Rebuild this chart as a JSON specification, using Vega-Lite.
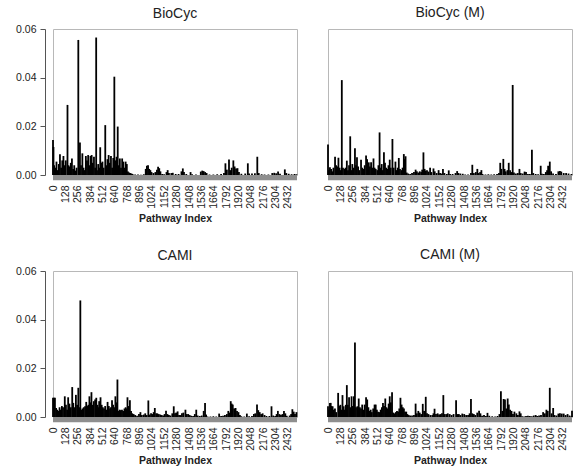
{
  "$schema": "https://vega.github.io/schema/vega-lite/v6.json",
  "padding": {"left": 15, "top": 5, "right": 2, "bottom": 2},
  "background": "white",
  "config": {
    "font": "Liberation Sans",
    "view": {"stroke": "#b8b8b8", "strokeWidth": 1},
    "title": {"fontSize": 14, "fontWeight": "normal", "color": "#222222", "offset": 3, "font": "Liberation Sans"},
    "axis": {"labelFont": "Liberation Sans", "labelFontSize": 10.5, "labelColor": "#222222", "titleFont": "Liberation Sans", "titleFontSize": 10.5, "titleFontWeight": "bold", "titleColor": "#222222", "grid": false},
    "axisY": {"format": ".2f", "offset": 8, "tickSize": 5, "labelPadding": 4, "domainColor": "#555555", "tickColor": "#555555"}
  },
  "datasets": {
    "biocyc": [
      {"i":0,"v":0.0144},{"i":5,"v":0.0115},{"i":12,"v":0.004},{"i":24,"v":0.003},{"i":36,"v":0.0055},{"i":48,"v":0.002},{"i":60,"v":0.0045},{"i":72,"v":0.0085},{"i":84,"v":0.003},{"i":96,"v":0.006},{"i":108,"v":0.0078},{"i":120,"v":0.004},{"i":132,"v":0.006},{"i":150,"v":0.0288},{"i":160,"v":0.004},{"i":172,"v":0.0035},{"i":184,"v":0.005},{"i":196,"v":0.0068},{"i":208,"v":0.0025},{"i":220,"v":0.004},{"i":232,"v":0.0018},{"i":244,"v":0.003},{"i":262,"v":0.0555},{"i":270,"v":0.003},{"i":279,"v":0.0134},{"i":290,"v":0.004},{"i":304,"v":0.0089},{"i":316,"v":0.003},{"i":328,"v":0.002},{"i":340,"v":0.0078},{"i":352,"v":0.006},{"i":364,"v":0.0082},{"i":376,"v":0.004},{"i":388,"v":0.0078},{"i":400,"v":0.0082},{"i":412,"v":0.005},{"i":424,"v":0.0075},{"i":436,"v":0.003},{"i":447,"v":0.0565},{"i":456,"v":0.002},{"i":468,"v":0.0045},{"i":480,"v":0.003},{"i":489,"v":0.0114},{"i":500,"v":0.005},{"i":512,"v":0.0055},{"i":524,"v":0.003},{"i":541,"v":0.0205},{"i":552,"v":0.004},{"i":564,"v":0.0065},{"i":576,"v":0.0082},{"i":588,"v":0.005},{"i":600,"v":0.0078},{"i":612,"v":0.003},{"i":624,"v":0.007},{"i":635,"v":0.0404},{"i":646,"v":0.006},{"i":658,"v":0.0075},{"i":670,"v":0.0199},{"i":680,"v":0.004},{"i":692,"v":0.0068},{"i":704,"v":0.003},{"i":716,"v":0.0068},{"i":728,"v":0.0055},{"i":740,"v":0.003},{"i":752,"v":0.0055},{"i":764,"v":0.0045},{"i":776,"v":0.0014},{"i":788,"v":0.001},{"i":800,"v":0.0008},{"i":812,"v":0.0006},{"i":824,"v":0.0004},
      {"i":850,"v":0.0002},{"i":880,"v":0.0002},{"i":910,"v":0.0001},{"i":940,"v":0.0003},{"i":960,"v":0.0025},{"i":972,"v":0.0038},{"i":984,"v":0.004},{"i":996,"v":0.0025},{"i":1008,"v":0.002},{"i":1020,"v":0.0012},{"i":1040,"v":0.0008},{"i":1060,"v":0.0012},{"i":1076,"v":0.0022},{"i":1088,"v":0.0034},{"i":1100,"v":0.0028},{"i":1112,"v":0.0015},{"i":1130,"v":0.0004},{"i":1150,"v":0.0003},{"i":1175,"v":0.0012},{"i":1187,"v":0.002},{"i":1200,"v":0.0008},{"i":1225,"v":0.0008},{"i":1240,"v":0.0009},{"i":1270,"v":0.0004},{"i":1300,"v":0.0004},{"i":1330,"v":0.0015},{"i":1344,"v":0.0027},{"i":1356,"v":0.0012},{"i":1380,"v":0.0004},{"i":1424,"v":0.0012},{"i":1440,"v":0.0003},{"i":1480,"v":0.0002},{"i":1530,"v":0.0014},{"i":1545,"v":0.0018},{"i":1560,"v":0.0016},{"i":1575,"v":0.0012},{"i":1590,"v":0.0008},{"i":1620,"v":0.0002},{"i":1660,"v":0.0002},{"i":1700,"v":0.0003},{"i":1740,"v":0.0004},{"i":1770,"v":0.0008},{"i":1785,"v":0.0048},{"i":1800,"v":0.0022},{"i":1822,"v":0.0064},{"i":1835,"v":0.002},{"i":1850,"v":0.003},{"i":1867,"v":0.006},{"i":1880,"v":0.0035},{"i":1895,"v":0.0027},{"i":1910,"v":0.0028},{"i":1925,"v":0.0012},{"i":1950,"v":0.0005},{"i":1990,"v":0.0006},{"i":2017,"v":0.0048},{"i":2030,"v":0.0006},{"i":2060,"v":0.0006},{"i":2090,"v":0.0007},{"i":2115,"v":0.0075},{"i":2130,"v":0.0008},{"i":2160,"v":0.0003},{"i":2190,"v":0.0002},{"i":2230,"v":0.0002},{"i":2270,"v":0.0008},{"i":2290,"v":0.0009},{"i":2310,"v":0.0007},{"i":2330,"v":0.0014},{"i":2350,"v":0.0005},{"i":2400,"v":0.0023},{"i":2415,"v":0.0008},{"i":2440,"v":0.0005},{"i":2470,"v":0.0003},{"i":2500,"v":0.0004},{"i":2520,"v":0.0003}
    ],
    "biocycm": [
      {"i":0,"v":0.0125},{"i":8,"v":0.002},{"i":20,"v":0.0032},{"i":32,"v":0.0025},{"i":44,"v":0.0015},{"i":56,"v":0.003},{"i":73,"v":0.0075},{"i":84,"v":0.004},{"i":96,"v":0.0035},{"i":108,"v":0.0071},{"i":120,"v":0.003},{"i":132,"v":0.002},{"i":143,"v":0.039},{"i":155,"v":0.003},{"i":170,"v":0.0025},{"i":182,"v":0.003},{"i":195,"v":0.0059},{"i":207,"v":0.002},{"i":218,"v":0.004},{"i":230,"v":0.0159},{"i":240,"v":0.002},{"i":252,"v":0.0045},{"i":265,"v":0.003},{"i":279,"v":0.011},{"i":290,"v":0.004},{"i":300,"v":0.0073},{"i":312,"v":0.0035},{"i":324,"v":0.002},{"i":342,"v":0.0063},{"i":354,"v":0.003},{"i":366,"v":0.0025},{"i":380,"v":0.004},{"i":394,"v":0.008},{"i":405,"v":0.0065},{"i":422,"v":0.0052},{"i":434,"v":0.0035},{"i":446,"v":0.0052},{"i":458,"v":0.003},{"i":471,"v":0.0068},{"i":482,"v":0.003},{"i":494,"v":0.0025},{"i":510,"v":0.002},{"i":522,"v":0.004},{"i":534,"v":0.0175},{"i":545,"v":0.003},{"i":556,"v":0.0045},{"i":567,"v":0.002},{"i":579,"v":0.0093},{"i":590,"v":0.005},{"i":602,"v":0.003},{"i":614,"v":0.0025},{"i":626,"v":0.004},{"i":639,"v":0.0063},{"i":650,"v":0.003},{"i":667,"v":0.0148},{"i":680,"v":0.003},{"i":698,"v":0.0055},{"i":710,"v":0.002},{"i":722,"v":0.003},{"i":733,"v":0.007},{"i":745,"v":0.0025},{"i":760,"v":0.002},{"i":772,"v":0.003},{"i":785,"v":0.0086},{"i":795,"v":0.0065},{"i":803,"v":0.0077},{"i":815,"v":0.001},{"i":830,"v":0.0006},{"i":850,"v":0.0004},{"i":870,"v":0.0008},{"i":890,"v":0.0012},{"i":907,"v":0.0022},{"i":920,"v":0.0015},{"i":935,"v":0.001},{"i":950,"v":0.0015},{"i":965,"v":0.0012},{"i":975,"v":0.0022},{"i":988,"v":0.0093},{"i":1000,"v":0.0025},{"i":1012,"v":0.0018},{"i":1025,"v":0.002},{"i":1040,"v":0.0014},{"i":1057,"v":0.003},{"i":1070,"v":0.0012},{"i":1092,"v":0.0027},{"i":1105,"v":0.0015},{"i":1125,"v":0.0008},{"i":1145,"v":0.002},{"i":1160,"v":0.0008},{"i":1175,"v":0.0006},{"i":1190,"v":0.0025},{"i":1205,"v":0.0008},{"i":1230,"v":0.0004},{"i":1250,"v":0.0019},{"i":1265,"v":0.0004},{"i":1290,"v":0.0004},{"i":1320,"v":0.0008},{"i":1337,"v":0.0016},{"i":1350,"v":0.0008},{"i":1370,"v":0.0006},{"i":1395,"v":0.0005},{"i":1420,"v":0.0002},{"i":1450,"v":0.0002},{"i":1480,"v":0.0008},{"i":1494,"v":0.0042},{"i":1510,"v":0.0008},{"i":1530,"v":0.0012},{"i":1546,"v":0.0025},{"i":1560,"v":0.0008},{"i":1575,"v":0.0012},{"i":1588,"v":0.002},{"i":1600,"v":0.0004},{"i":1630,"v":0.0002},{"i":1660,"v":0.0003},{"i":1690,"v":0.0002},{"i":1720,"v":0.0003},{"i":1750,"v":0.0004},{"i":1770,"v":0.0008},{"i":1783,"v":0.005},{"i":1795,"v":0.0025},{"i":1815,"v":0.0066},{"i":1828,"v":0.0025},{"i":1840,"v":0.0015},{"i":1858,"v":0.002},{"i":1871,"v":0.005},{"i":1885,"v":0.002},{"i":1900,"v":0.0012},{"i":1912,"v":0.037},{"i":1925,"v":0.001},{"i":1945,"v":0.0006},{"i":1965,"v":0.0008},{"i":1982,"v":0.0025},{"i":1995,"v":0.0008},{"i":2015,"v":0.0006},{"i":2035,"v":0.0014},{"i":2050,"v":0.0012},{"i":2070,"v":0.0004},{"i":2090,"v":0.0004},{"i":2111,"v":0.0104},{"i":2125,"v":0.0008},{"i":2150,"v":0.0004},{"i":2175,"v":0.0003},{"i":2202,"v":0.0038},{"i":2215,"v":0.0005},{"i":2235,"v":0.0004},{"i":2255,"v":0.0012},{"i":2268,"v":0.002},{"i":2279,"v":0.0038},{"i":2296,"v":0.0055},{"i":2310,"v":0.0015},{"i":2330,"v":0.0006},{"i":2360,"v":0.0004},{"i":2385,"v":0.0015},{"i":2401,"v":0.0016},{"i":2415,"v":0.0014},{"i":2440,"v":0.0008},{"i":2465,"v":0.0008},{"i":2490,"v":0.0006},{"i":2520,"v":0.0004}
    ],
    "cami": [
      {"i":0,"v":0.0079},{"i":10,"v":0.0079},{"i":20,"v":0.0079},{"i":32,"v":0.0037},{"i":44,"v":0.003},{"i":56,"v":0.0025},{"i":68,"v":0.004},{"i":80,"v":0.003},{"i":92,"v":0.0045},{"i":104,"v":0.004},{"i":122,"v":0.0085},{"i":134,"v":0.005},{"i":146,"v":0.003},{"i":157,"v":0.0081},{"i":170,"v":0.0055},{"i":185,"v":0.004},{"i":199,"v":0.0123},{"i":210,"v":0.0058},{"i":222,"v":0.004},{"i":237,"v":0.0091},{"i":250,"v":0.005},{"i":262,"v":0.012},{"i":272,"v":0.004},{"i":283,"v":0.0479},{"i":294,"v":0.003},{"i":306,"v":0.0035},{"i":318,"v":0.004},{"i":332,"v":0.0044},{"i":344,"v":0.0062},{"i":356,"v":0.0045},{"i":366,"v":0.005},{"i":377,"v":0.0085},{"i":388,"v":0.006},{"i":398,"v":0.0102},{"i":410,"v":0.005},{"i":422,"v":0.0065},{"i":436,"v":0.0072},{"i":448,"v":0.0079},{"i":460,"v":0.005},{"i":470,"v":0.004},{"i":478,"v":0.0065},{"i":492,"v":0.0081},{"i":504,"v":0.005},{"i":516,"v":0.004},{"i":528,"v":0.0035},{"i":540,"v":0.0045},{"i":552,"v":0.003},{"i":565,"v":0.0062},{"i":578,"v":0.0045},{"i":590,"v":0.0035},{"i":600,"v":0.004},{"i":611,"v":0.0069},{"i":622,"v":0.005},{"i":634,"v":0.004},{"i":646,"v":0.0085},{"i":657,"v":0.006},{"i":667,"v":0.0154},{"i":678,"v":0.0025},{"i":690,"v":0.003},{"i":702,"v":0.0028},{"i":714,"v":0.003},{"i":726,"v":0.0025},{"i":740,"v":0.0035},{"i":752,"v":0.004},{"i":762,"v":0.0035},{"i":771,"v":0.0081},{"i":784,"v":0.0045},{"i":796,"v":0.0069},{"i":808,"v":0.0025},{"i":820,"v":0.0015},{"i":835,"v":0.0012},{"i":850,"v":0.0008},{"i":870,"v":0.0005},{"i":890,"v":0.0012},{"i":905,"v":0.002},{"i":920,"v":0.0008},{"i":940,"v":0.001},{"i":955,"v":0.0015},{"i":970,"v":0.0008},{"i":987,"v":0.0068},{"i":1000,"v":0.001},{"i":1015,"v":0.0015},{"i":1030,"v":0.0012},{"i":1042,"v":0.002},{"i":1054,"v":0.0037},{"i":1068,"v":0.0015},{"i":1080,"v":0.0015},{"i":1095,"v":0.0012},{"i":1110,"v":0.001},{"i":1125,"v":0.0008},{"i":1140,"v":0.0006},{"i":1155,"v":0.0012},{"i":1170,"v":0.0026},{"i":1185,"v":0.0012},{"i":1200,"v":0.0008},{"i":1215,"v":0.0006},{"i":1235,"v":0.0015},{"i":1250,"v":0.0044},{"i":1263,"v":0.0015},{"i":1275,"v":0.0018},{"i":1290,"v":0.0023},{"i":1305,"v":0.0008},{"i":1320,"v":0.0008},{"i":1335,"v":0.0015},{"i":1350,"v":0.0018},{"i":1371,"v":0.003},{"i":1385,"v":0.0012},{"i":1400,"v":0.0012},{"i":1415,"v":0.0008},{"i":1430,"v":0.0005},{"i":1450,"v":0.0004},{"i":1468,"v":0.0012},{"i":1483,"v":0.003},{"i":1498,"v":0.0006},{"i":1520,"v":0.0004},{"i":1540,"v":0.0006},{"i":1560,"v":0.0025},{"i":1574,"v":0.0058},{"i":1585,"v":0.001},{"i":1600,"v":0.0002},{"i":1630,"v":0.0002},{"i":1660,"v":0.0003},{"i":1690,"v":0.0002},{"i":1720,"v":0.0014},{"i":1740,"v":0.0004},{"i":1760,"v":0.0005},{"i":1780,"v":0.0008},{"i":1800,"v":0.0012},{"i":1815,"v":0.0025},{"i":1828,"v":0.0018},{"i":1840,"v":0.0065},{"i":1850,"v":0.0055},{"i":1861,"v":0.0051},{"i":1875,"v":0.0035},{"i":1890,"v":0.0037},{"i":1905,"v":0.0025},{"i":1920,"v":0.002},{"i":1935,"v":0.0008},{"i":1950,"v":0.0003},{"i":1980,"v":0.0002},{"i":2007,"v":0.0014},{"i":2030,"v":0.0003},{"i":2060,"v":0.0004},{"i":2080,"v":0.0012},{"i":2095,"v":0.0015},{"i":2112,"v":0.0051},{"i":2125,"v":0.0028},{"i":2140,"v":0.002},{"i":2155,"v":0.0012},{"i":2170,"v":0.0015},{"i":2190,"v":0.0008},{"i":2210,"v":0.0004},{"i":2240,"v":0.0004},{"i":2262,"v":0.0044},{"i":2280,"v":0.0006},{"i":2300,"v":0.0004},{"i":2315,"v":0.0012},{"i":2328,"v":0.0025},{"i":2345,"v":0.0012},{"i":2360,"v":0.0008},{"i":2375,"v":0.0012},{"i":2391,"v":0.0025},{"i":2405,"v":0.0015},{"i":2420,"v":0.0005},{"i":2450,"v":0.0006},{"i":2465,"v":0.0012},{"i":2478,"v":0.0032},{"i":2492,"v":0.0022},{"i":2505,"v":0.0012},{"i":2520,"v":0.002}
    ],
    "camim": [
      {"i":0,"v":0.0044},{"i":10,"v":0.003},{"i":20,"v":0.0058},{"i":28,"v":0.0058},{"i":36,"v":0.0045},{"i":48,"v":0.0044},{"i":60,"v":0.003},{"i":72,"v":0.0035},{"i":84,"v":0.002},{"i":105,"v":0.0099},{"i":116,"v":0.0045},{"i":128,"v":0.005},{"i":140,"v":0.003},{"i":150,"v":0.009},{"i":162,"v":0.0044},{"i":174,"v":0.003},{"i":184,"v":0.005},{"i":195,"v":0.0131},{"i":206,"v":0.005},{"i":218,"v":0.0081},{"i":230,"v":0.004},{"i":244,"v":0.0085},{"i":256,"v":0.0045},{"i":268,"v":0.0085},{"i":279,"v":0.0306},{"i":290,"v":0.004},{"i":304,"v":0.0044},{"i":318,"v":0.0076},{"i":330,"v":0.004},{"i":342,"v":0.0035},{"i":354,"v":0.0051},{"i":366,"v":0.003},{"i":380,"v":0.0051},{"i":394,"v":0.0081},{"i":406,"v":0.0072},{"i":418,"v":0.004},{"i":430,"v":0.0025},{"i":442,"v":0.003},{"i":454,"v":0.002},{"i":468,"v":0.0035},{"i":482,"v":0.0051},{"i":494,"v":0.0051},{"i":506,"v":0.003},{"i":518,"v":0.0022},{"i":530,"v":0.002},{"i":545,"v":0.003},{"i":558,"v":0.004},{"i":569,"v":0.0058},{"i":580,"v":0.0045},{"i":593,"v":0.0076},{"i":605,"v":0.004},{"i":617,"v":0.0035},{"i":628,"v":0.0055},{"i":639,"v":0.0085},{"i":651,"v":0.006},{"i":663,"v":0.0102},{"i":675,"v":0.0018},{"i":690,"v":0.0015},{"i":702,"v":0.002},{"i":714,"v":0.0025},{"i":726,"v":0.0022},{"i":738,"v":0.0035},{"i":750,"v":0.0079},{"i":762,"v":0.0051},{"i":774,"v":0.004},{"i":786,"v":0.0035},{"i":798,"v":0.0022},{"i":810,"v":0.0022},{"i":822,"v":0.0012},{"i":835,"v":0.0008},{"i":850,"v":0.0006},{"i":870,"v":0.0006},{"i":890,"v":0.0008},{"i":907,"v":0.0055},{"i":920,"v":0.0015},{"i":935,"v":0.0025},{"i":950,"v":0.0018},{"i":965,"v":0.0012},{"i":981,"v":0.0054},{"i":995,"v":0.0025},{"i":1012,"v":0.0083},{"i":1025,"v":0.0015},{"i":1040,"v":0.0012},{"i":1060,"v":0.0008},{"i":1080,"v":0.0008},{"i":1092,"v":0.0015},{"i":1103,"v":0.0034},{"i":1118,"v":0.0012},{"i":1135,"v":0.0015},{"i":1150,"v":0.001},{"i":1165,"v":0.0012},{"i":1180,"v":0.0015},{"i":1194,"v":0.009},{"i":1208,"v":0.0012},{"i":1225,"v":0.0012},{"i":1240,"v":0.0015},{"i":1260,"v":0.0012},{"i":1280,"v":0.0008},{"i":1300,"v":0.0012},{"i":1326,"v":0.0069},{"i":1340,"v":0.0012},{"i":1355,"v":0.0012},{"i":1370,"v":0.0008},{"i":1390,"v":0.0014},{"i":1410,"v":0.0012},{"i":1430,"v":0.0008},{"i":1450,"v":0.0008},{"i":1466,"v":0.0015},{"i":1480,"v":0.0074},{"i":1494,"v":0.0015},{"i":1510,"v":0.0012},{"i":1525,"v":0.0008},{"i":1545,"v":0.0018},{"i":1564,"v":0.0026},{"i":1578,"v":0.0015},{"i":1595,"v":0.0005},{"i":1615,"v":0.0008},{"i":1635,"v":0.0004},{"i":1651,"v":0.0017},{"i":1670,"v":0.0005},{"i":1700,"v":0.0003},{"i":1730,"v":0.0002},{"i":1755,"v":0.0004},{"i":1775,"v":0.0012},{"i":1790,"v":0.0106},{"i":1805,"v":0.0025},{"i":1818,"v":0.0074},{"i":1832,"v":0.0072},{"i":1846,"v":0.0035},{"i":1860,"v":0.0076},{"i":1872,"v":0.0051},{"i":1885,"v":0.003},{"i":1900,"v":0.0025},{"i":1915,"v":0.0012},{"i":1930,"v":0.0022},{"i":1950,"v":0.0015},{"i":1966,"v":0.0008},{"i":1982,"v":0.0023},{"i":1995,"v":0.0015},{"i":2010,"v":0.0003},{"i":2030,"v":0.0002},{"i":2050,"v":0.0004},{"i":2070,"v":0.0005},{"i":2090,"v":0.0004},{"i":2110,"v":0.0003},{"i":2130,"v":0.0006},{"i":2150,"v":0.0008},{"i":2165,"v":0.0004},{"i":2185,"v":0.0006},{"i":2205,"v":0.0008},{"i":2227,"v":0.002},{"i":2245,"v":0.0015},{"i":2261,"v":0.003},{"i":2275,"v":0.0025},{"i":2296,"v":0.012},{"i":2315,"v":0.0015},{"i":2331,"v":0.0037},{"i":2345,"v":0.0008},{"i":2365,"v":0.0006},{"i":2385,"v":0.0014},{"i":2401,"v":0.0015},{"i":2420,"v":0.0014},{"i":2440,"v":0.0014},{"i":2460,"v":0.0008},{"i":2480,"v":0.0012},{"i":2500,"v":0.0006},{"i":2520,"v":0.0004},{"i":2526,"v":0.0026}
    ],
    "band": [{"a": 0}]
  },
  "columns": 2,
  "spacing": {"column": 24, "row": 22},
  "concat": [
    {
      "title": {"text": "BioCyc", "offset": 3}, "width": 244, "height": 146,
      "layer": [
        {"data": {"name": "band"}, "mark": {"type": "rect", "color": "#8e8e8e"},
         "encoding": {"x": {"datum": 0, "type": "quantitative", "scale": {"domain": [0, 2526], "nice": false, "zero": false}, "axis": {"values": [0,128,256,384,512,640,768,896,1024,1152,1280,1408,1536,1664,1792,1920,2048,2176,2304,2432], "format": "d", "labelAngle": -90, "ticks": false, "tickSize": 0, "domain": false, "labelPadding": 10, "labelOverlap": false, "labelFlush": false, "titlePadding": 5, "title": "Pathway Index"}}, "x2": {"datum": 2526}, "y": {"datum": 0, "type": "quantitative", "scale": {"domain": [0, 0.06], "nice": false}, "axis": {"values": [0, 0.02, 0.04, 0.06], "title": null}}, "y2": {"datum": -0.0022}}},
        {"data": {"name": "biocyc"}, "mark": {"type": "rule", "color": "#000000", "strokeWidth": 1.8},
         "encoding": {
           "x": {"field": "i", "type": "quantitative", "axis": {"values": [0,128,256,384,512,640,768,896,1024,1152,1280,1408,1536,1664,1792,1920,2048,2176,2304,2432], "format": "d", "labelAngle": -90, "ticks": false, "tickSize": 0, "domain": false, "labelPadding": 10, "labelOverlap": false, "labelFlush": false, "titlePadding": 5, "title": "Pathway Index"}},
           "y": {"field": "v", "type": "quantitative", "axis": {"values": [0, 0.02, 0.04, 0.06], "title": null}},
           "y2": {"datum": 0}}}
      ]
    },
    {
      "title": {"text": "BioCyc (M)", "offset": 9}, "width": 244, "height": 146,
      "layer": [
        {"data": {"name": "band"}, "mark": {"type": "rect", "color": "#8e8e8e"},
         "encoding": {"x": {"datum": 0, "type": "quantitative", "scale": {"domain": [0, 2526], "nice": false, "zero": false}, "axis": {"values": [0,128,256,384,512,640,768,896,1024,1152,1280,1408,1536,1664,1792,1920,2048,2176,2304,2432], "format": "d", "labelAngle": -90, "ticks": false, "tickSize": 0, "domain": false, "labelPadding": 10, "labelOverlap": false, "labelFlush": false, "titlePadding": 5, "title": "Pathway Index"}}, "x2": {"datum": 2526}, "y": {"datum": 0, "type": "quantitative", "scale": {"domain": [0, 0.06], "nice": false}, "axis": null}, "y2": {"datum": -0.0022}}},
        {"data": {"name": "biocycm"}, "mark": {"type": "rule", "color": "#000000", "strokeWidth": 1.8},
         "encoding": {
           "x": {"field": "i", "type": "quantitative", "axis": {"values": [0,128,256,384,512,640,768,896,1024,1152,1280,1408,1536,1664,1792,1920,2048,2176,2304,2432], "format": "d", "labelAngle": -90, "ticks": false, "tickSize": 0, "domain": false, "labelPadding": 10, "labelOverlap": false, "labelFlush": false, "titlePadding": 5, "title": "Pathway Index"}},
           "y": {"field": "v", "type": "quantitative", "axis": null},
           "y2": {"datum": 0}}}
      ]
    },
    {
      "title": {"text": "CAMI", "offset": 3}, "width": 244, "height": 146,
      "layer": [
        {"data": {"name": "band"}, "mark": {"type": "rect", "color": "#8e8e8e"},
         "encoding": {"x": {"datum": 0, "type": "quantitative", "scale": {"domain": [0, 2526], "nice": false, "zero": false}, "axis": {"values": [0,128,256,384,512,640,768,896,1024,1152,1280,1408,1536,1664,1792,1920,2048,2176,2304,2432], "format": "d", "labelAngle": -90, "ticks": false, "tickSize": 0, "domain": false, "labelPadding": 10, "labelOverlap": false, "labelFlush": false, "titlePadding": 5, "title": "Pathway Index"}}, "x2": {"datum": 2526}, "y": {"datum": 0, "type": "quantitative", "scale": {"domain": [0, 0.06], "nice": false}, "axis": {"values": [0, 0.02, 0.04, 0.06], "title": null}}, "y2": {"datum": -0.0022}}},
        {"data": {"name": "cami"}, "mark": {"type": "rule", "color": "#000000", "strokeWidth": 1.8},
         "encoding": {
           "x": {"field": "i", "type": "quantitative", "axis": {"values": [0,128,256,384,512,640,768,896,1024,1152,1280,1408,1536,1664,1792,1920,2048,2176,2304,2432], "format": "d", "labelAngle": -90, "ticks": false, "tickSize": 0, "domain": false, "labelPadding": 10, "labelOverlap": false, "labelFlush": false, "titlePadding": 5, "title": "Pathway Index"}},
           "y": {"field": "v", "type": "quantitative", "axis": {"values": [0, 0.02, 0.04, 0.06], "title": null}},
           "y2": {"datum": 0}}}
      ]
    },
    {
      "title": {"text": "CAMI (M)", "offset": 9}, "width": 244, "height": 146,
      "layer": [
        {"data": {"name": "band"}, "mark": {"type": "rect", "color": "#8e8e8e"},
         "encoding": {"x": {"datum": 0, "type": "quantitative", "scale": {"domain": [0, 2526], "nice": false, "zero": false}, "axis": {"values": [0,128,256,384,512,640,768,896,1024,1152,1280,1408,1536,1664,1792,1920,2048,2176,2304,2432], "format": "d", "labelAngle": -90, "ticks": false, "tickSize": 0, "domain": false, "labelPadding": 10, "labelOverlap": false, "labelFlush": false, "titlePadding": 5, "title": "Pathway Index"}}, "x2": {"datum": 2526}, "y": {"datum": 0, "type": "quantitative", "scale": {"domain": [0, 0.06], "nice": false}, "axis": null}, "y2": {"datum": -0.0022}}},
        {"data": {"name": "camim"}, "mark": {"type": "rule", "color": "#000000", "strokeWidth": 1.8},
         "encoding": {
           "x": {"field": "i", "type": "quantitative", "axis": {"values": [0,128,256,384,512,640,768,896,1024,1152,1280,1408,1536,1664,1792,1920,2048,2176,2304,2432], "format": "d", "labelAngle": -90, "ticks": false, "tickSize": 0, "domain": false, "labelPadding": 10, "labelOverlap": false, "labelFlush": false, "titlePadding": 5, "title": "Pathway Index"}},
           "y": {"field": "v", "type": "quantitative", "axis": null},
           "y2": {"datum": 0}}}
      ]
    }
  ]
}
